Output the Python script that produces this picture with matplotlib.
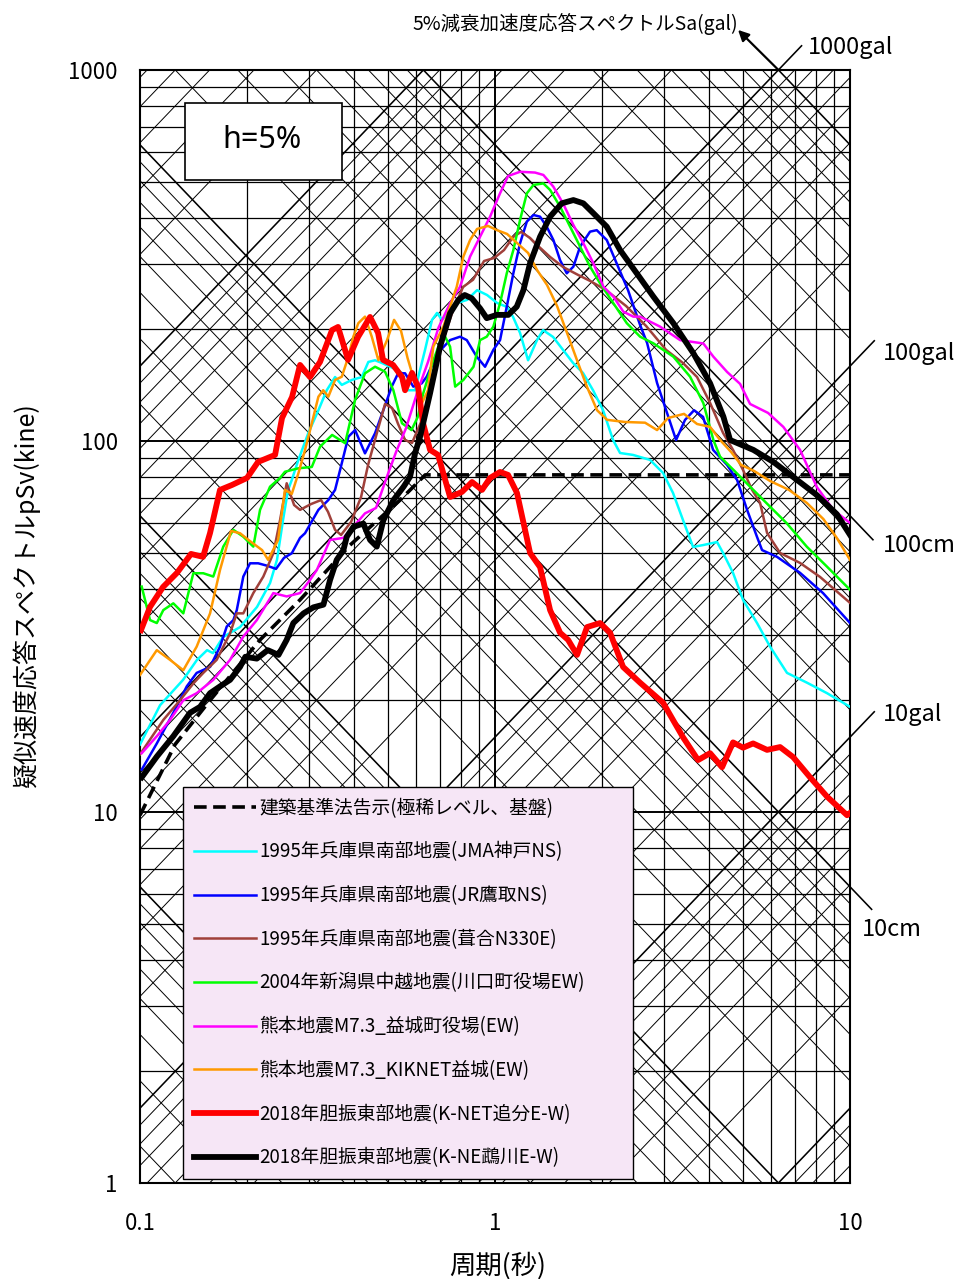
from __future__ import annotations

import numpy as np
import matplotlib
matplotlib.use("Agg")
import matplotlib.pyplot as plt
from matplotlib.patches import Rectangle
from matplotlib.ticker import NullFormatter

# ============================================================
# 擬似速度応答スペクトル (三軸図, h=5%)
# ============================================================

OUT_FILE = "out.png"
TWO_PI = 2.0 * np.pi

# ----------------------------
# Données : période T [s], pSv [kine]
# ----------------------------
code_T = [0.1, 0.1255, 0.1575, 0.2178, 0.2823, 0.3905, 0.5401, 0.6356, 10.0]
code_sv = [9.8, 15.2, 20.0, 29.1, 37.3, 52.4, 69.3, 81.0, 81.0]

cyan_T = [0.1, 0.1139, 0.1322, 0.1447, 0.1545, 0.1605, 0.1713, 0.1913, 0.2136, 0.2324,
          0.2431, 0.2528, 0.2612, 0.2676, 0.2793, 0.298, 0.318, 0.3357, 0.3543, 0.3701,
          0.3948, 0.4213, 0.4397, 0.4592, 0.4805, 0.5161, 0.547, 0.5686, 0.5951, 0.6351,
          0.6645, 0.6864, 0.709, 0.7816, 0.834, 0.8899, 0.9495, 1.013, 1.081, 1.124,
          1.176, 1.239, 1.313, 1.365, 1.457, 1.554, 1.659, 1.769, 1.888, 2.015,
          2.15, 2.25, 2.447, 2.733, 2.973, 3.172, 3.384, 3.612, 3.854, 4.221,
          4.388, 4.681, 4.995, 5.47, 5.952, 6.644, 7.566, 8.612, 10.0]
cyan_sv = [15.2, 19.4, 22.7, 25.7, 27.3, 26.8, 29.6, 31.5, 35.7, 41.4,
           47.8, 61.2, 73.8, 78.5, 88.9, 105.1, 121, 137, 148.7, 141.6,
           146, 148.7, 163.3, 165, 162.2, 157.2, 152.5, 137, 137, 176,
           212, 221.3, 212, 235.5, 240, 255, 247.4, 235.5, 229.7, 215.9,
           195.5, 165, 187, 199, 190.7, 176, 162.2, 152.5, 137, 121,
           100.6, 92.8, 91.7, 88.9, 82, 72.4, 61.2, 51.8, 52.4, 53.4,
           49.9, 44.1, 37.3, 32.3, 27.9, 23.7, 22.3, 20.9, 19.2]

blue_T = [0.1011, 0.1115, 0.1241, 0.1354, 0.1444, 0.1575, 0.168, 0.1755, 0.1832, 0.1873,
          0.1954, 0.2041, 0.2152, 0.228, 0.2416, 0.2544, 0.2676, 0.2823, 0.2916, 0.318,
          0.3392, 0.3543, 0.3701, 0.3863, 0.4034, 0.4302, 0.4592, 0.4845, 0.5117, 0.5332,
          0.5579, 0.5886, 0.6216, 0.6418, 0.6882, 0.747, 0.7971, 0.8325, 0.888, 0.9372,
          0.989, 1.033, 1.079, 1.126, 1.176, 1.229, 1.283, 1.339, 1.398, 1.46,
          1.525, 1.592, 1.662, 1.736, 1.852, 1.934, 2.064, 2.2, 2.369, 2.562,
          2.681, 2.86, 3.051, 3.235, 3.429, 3.636, 3.854, 4.113, 4.503, 4.806,
          5.128, 5.47, 5.651, 6.228, 7.23, 8.391, 10.0]
blue_sv = [13.0, 15.3, 18.5, 21.8, 23.7, 24.6, 27.9, 31.6, 32.9, 35.0,
           43.1, 46.8, 46.8, 46.1, 45.2, 48.4, 49.8, 54.8, 56.4, 65.2,
           69.3, 73.8, 87.1, 102.7, 107, 92.6, 104.9, 121, 140.1, 152.2,
           152.2, 140.1, 143, 149, 172.3, 187, 191, 187, 168.7, 158.5,
           176, 187, 230.1, 283.1, 341.1, 390.1, 406.6, 402.3, 378.1, 348,
           307, 283.1, 295, 334, 366.6, 370, 348, 301.3, 255, 205.4,
           183.7, 143.3, 119, 100.6, 114, 121, 116.1, 94.6, 86.2, 78.5,
           65.2, 55.1, 50.8, 48.7, 44.1, 38.9, 32.3]

brown_T = [0.1, 0.1163, 0.1296, 0.1413, 0.1507, 0.1644, 0.1793, 0.1873, 0.1954, 0.2085,
           0.2225, 0.2374, 0.248, 0.2589, 0.2716, 0.2823, 0.3032, 0.3236, 0.3385, 0.3543,
           0.3684, 0.393, 0.4194, 0.4389, 0.4622, 0.4899, 0.5128, 0.5332, 0.5579, 0.5837,
           0.6227, 0.6516, 0.6687, 0.7138, 0.7616, 0.8126, 0.867, 0.9312, 0.9936, 1.06,
           1.124, 1.184, 1.255, 1.313, 1.429, 1.554, 1.713, 1.852, 2.054, 2.339,
           2.663, 3.032, 3.384, 3.707, 4.034, 4.388, 4.681, 4.995, 5.297, 5.578,
           5.837, 6.351, 7.23, 8.231, 10.0]
brown_sv = [14.3, 17.7, 20.0, 22.2, 23.7, 25.7, 30.3, 34.3, 34.3, 38.9,
            43.1, 49.8, 61.2, 76.9, 67.2, 65.2, 67.6, 69.3, 64.4, 57.6,
            55.8, 60.5, 70.6, 86.2, 103.1, 125.8, 122.7, 111.1, 100.6, 98.8,
            114, 129, 152.5, 187, 225, 260.1, 272, 305.5, 311.3, 327,
            354.6, 366, 352.5, 337.5, 313.3, 294.4, 280.3, 270, 255, 231.1,
            204.2, 176, 162.2, 148.7, 126.6, 105.1, 94.6, 83.5, 73.8, 68.1,
            56.5, 49.9, 46.9, 43.0, 36.6]

green_T = [0.1011, 0.1067, 0.1115, 0.1163, 0.1241, 0.1324, 0.1413, 0.1507, 0.1608, 0.1716,
           0.1832, 0.1954, 0.2085, 0.2178, 0.2324, 0.248, 0.256, 0.2793, 0.3047, 0.3214,
           0.3476, 0.3782, 0.4034, 0.4302, 0.4592, 0.4899, 0.5171, 0.5468, 0.5816, 0.6065,
           0.6278, 0.6703, 0.7153, 0.747, 0.7721, 0.8142, 0.8697, 0.9075, 0.9475, 0.989,
           1.033, 1.079, 1.126, 1.176, 1.229, 1.283, 1.368, 1.429, 1.525, 1.627,
           1.736, 1.852, 1.976, 2.154, 2.35, 2.562, 2.792, 3.179, 3.543, 3.862,
           4.121, 4.304, 4.697, 5.228, 5.952, 6.632, 7.551, 8.597, 10.0]
green_sv = [40.5, 32.9, 32.3, 35.0, 36.5, 34.3, 44.0, 44.0, 43.1, 51.9,
            57.6, 55.2, 51.9, 65.2, 75.3, 79.5, 82.6, 84.4, 85.1, 96.5,
            103.8, 98.6, 129, 152.2, 158.5, 153.7, 137, 111.6, 107, 116.3,
            134.5, 165, 195.1, 179.6, 140.1, 146, 158.5, 187, 191, 203.3,
            235.1, 283.1, 327, 394, 465.1, 489.8, 494.6, 475, 428, 378.1,
            334, 295, 266.1, 235.1, 207.7, 191, 183.3, 168.7, 149, 126.4,
            100.6, 90.7, 83.5, 75.3, 66.5, 60.0, 51.9, 45.9, 39.7]

magenta_T = [0.1011, 0.1115, 0.1215, 0.1324, 0.1444, 0.1608, 0.1793, 0.1954, 0.2133, 0.2374,
             0.2589, 0.2823, 0.3012, 0.3148, 0.343, 0.374, 0.4034, 0.4302, 0.4622, 0.4932,
             0.5263, 0.5616, 0.6065, 0.6474, 0.6923, 0.747, 0.7971, 0.8505, 0.9075, 0.9683,
             1.033, 1.088, 1.176, 1.296, 1.368, 1.46, 1.554, 1.662, 1.773, 1.892,
             2.019, 2.154, 2.298, 2.452, 2.562, 2.917, 3.321, 3.862, 4.121, 4.503,
             4.9, 5.228, 5.875, 6.487, 7.23, 8.057, 8.974, 10.0]
magenta_sv = [14.4, 16.0, 17.7, 20.0, 20.9, 22.7, 25.7, 29.7, 32.9, 38.9,
              38.1, 38.9, 42.2, 44.9, 54.1, 54.8, 59.4, 63.8, 66.0, 78.9,
              93.4, 108.4, 137, 163.3, 201.6, 235.1, 260.6, 314, 355.3, 402.3,
              465.1, 517.7, 531.6, 529, 521.2, 484.5, 437, 382.1, 341.1, 301.3,
              260.6, 245, 223.1, 216.3, 216.3, 203.3, 187, 183.1, 168.7, 153.5,
              142.5, 125.8, 119, 109.1, 94.6, 75.2, 65.2, 60.1]

orange_T = [0.1, 0.1115, 0.1215, 0.1324, 0.1444, 0.1575, 0.168, 0.1804, 0.1913, 0.2041,
            0.2207, 0.2296, 0.2449, 0.256, 0.2676, 0.2793, 0.2916, 0.3047, 0.318, 0.3281,
            0.3392, 0.3543, 0.3701, 0.3863, 0.3989, 0.412, 0.4302, 0.4495, 0.4693, 0.4964,
            0.5195, 0.5435, 0.5668, 0.5913, 0.6227, 0.6474, 0.67, 0.7153, 0.747, 0.7801,
            0.8142, 0.8505, 0.8899, 0.9557, 1.013, 1.081, 1.153, 1.239, 1.313, 1.401,
            1.495, 1.595, 1.702, 1.816, 1.938, 2.068, 2.323, 2.646, 2.86, 3.071,
            3.406, 3.707, 4.034, 4.304, 4.622, 4.932, 5.366, 5.952, 6.731, 7.551,
            8.409, 9.173, 10.0]
orange_sv = [23.4, 27.3, 25.7, 24.1, 27.9, 34.3, 44.9, 57.2, 56.4, 53.7,
             50.8, 47.8, 54.1, 73.8, 72.0, 81.8, 94.6, 111.6, 131.6, 137,
             131.6, 146, 149, 168.7, 191, 207.7, 216.3, 191, 165, 187,
             212, 197.9, 167.5, 146, 126.6, 137, 179.6, 203.3, 230.1, 260.6,
             314, 348, 372.8, 379.8, 370, 361.4, 341.7, 321.2, 289, 263.3,
             231.1, 195.5, 165, 139.8, 121, 114, 112.5, 112, 107, 115.3,
             118.3, 111.1, 109.1, 100.6, 93.4, 86.2, 83.0, 78.0, 73.8, 68.1,
             61.6, 54.8, 47.8]

red_T = [0.1006, 0.1067, 0.1161, 0.1271, 0.1392, 0.1505, 0.1575, 0.168, 0.1816, 0.2002,
         0.215, 0.2401, 0.2512, 0.2681, 0.2823, 0.3012, 0.3214, 0.3474, 0.3612, 0.3855,
         0.4113, 0.4446, 0.4683, 0.4836, 0.5161, 0.547, 0.5579, 0.5837, 0.6069, 0.6268,
         0.6561, 0.691, 0.747, 0.8072, 0.8614, 0.9192, 0.9683, 1.033, 1.088, 1.153,
         1.255, 1.339, 1.429, 1.525, 1.606, 1.702, 1.816, 1.976, 2.109, 2.294,
         2.562, 2.973, 3.384, 3.731, 4.034, 4.36, 4.681, 4.995, 5.332, 5.837,
         6.351, 6.91, 7.714, 8.612, 9.806, 10.0]
red_sv = [30.9, 35.7, 40.4, 44.1, 49.6, 48.7, 56.5, 73.8, 76.1, 79.5,
          87.8, 91.7, 115.3, 131.4, 160.3, 148.7, 163.3, 199, 202.9, 165.4,
          190.7, 215.9, 195.5, 165.4, 160.3, 148.7, 137, 152.5, 139.8, 111.8,
          94.6, 91.7, 70.6, 72.9, 77.5, 73.8, 79.5, 82.5, 81.0, 72.4,
          49.9, 45.7, 35.0, 30.4, 29.1, 26.5, 31.5, 32.3, 30.4, 24.6,
          22.3, 19.7, 15.9, 13.8, 14.4, 13.2, 15.4, 14.9, 15.3, 14.7,
          14.96, 14.06, 12.4, 11.0, 9.8, 9.94]

black_T = [0.1011, 0.1115, 0.1241, 0.1383, 0.1476, 0.1575, 0.168, 0.1793, 0.1913, 0.198,
           0.2133, 0.2289, 0.2455, 0.2589, 0.2703, 0.2888, 0.3078, 0.3286, 0.343, 0.3581,
           0.374, 0.3823, 0.3993, 0.4256, 0.4446, 0.4644, 0.4848, 0.5175, 0.5527, 0.5763,
           0.5951, 0.6149, 0.6561, 0.7001, 0.747, 0.7885, 0.8215, 0.8597, 0.9075, 0.9475,
           1.011, 1.09, 1.151, 1.202, 1.255, 1.339, 1.429, 1.541, 1.662, 1.773,
           1.892, 2.064, 2.25, 2.507, 2.792, 3.179, 3.62, 4.034, 4.397, 4.592,
           5.341, 6.081, 6.91, 8.057, 9.173, 10.0]
black_sv = [12.4, 14.1, 16.0, 18.5, 19.2, 20.9, 21.8, 22.7, 24.6, 26.2,
            25.9, 27.3, 26.5, 29.1, 32.3, 34.3, 35.6, 36.2, 42.2, 47.8,
            50.8, 55.2, 58.7, 59.9, 54.1, 51.9, 61.2, 69.3, 75.3, 80.1,
            92.6, 102.7, 134.5, 179.6, 220.9, 240, 247.4, 242.4, 227.7, 214.3,
            218.7, 218.7, 230.1, 255, 301.3, 355.3, 402.3, 437, 446, 437,
            411, 378, 327, 283, 245, 207.7, 172.3, 143, 116.3, 100.6,
            94.6, 87.8, 80.0, 71.5, 63.5, 55.8]

SERIES_LABELS = [
    "建築基準法告示(極稀レベル、基盤)",
    "1995年兵庫県南部地震(JMA神戸NS)",
    "1995年兵庫県南部地震(JR鷹取NS)",
    "1995年兵庫県南部地震(葺合N330E)",
    "2004年新潟県中越地震(川口町役場EW)",
    "熊本地震M7.3_益城町役場(EW)",
    "熊本地震M7.3_KIKNET益城(EW)",
    "2018年胆振東部地震(K-NET追分E-W)",
    "2018年胆振東部地震(K-NE鵡川E-W)",
]

# axes ticks
X_TICKS = [0.1, 1, 10]
X_TICK_LABELS = ["0.1", "1", "10"]
Y_TICKS = [1, 10, 100, 1000]
Y_TICK_LABELS = ["1", "10", "100", "1000"]


def set_plot_style() -> None:
    plt.rcParams.update({
        "font.family": ["Noto Sans CJK JP", "DejaVu Sans"],
        "axes.linewidth": 1.5,
        "axes.edgecolor": "black",
    })


def draw_tripartite_grid(ax) -> None:
    # lignes Sa (pente +1) et Sd (pente -1)
    t = np.array([0.01, 100.0])
    for k in range(-1, 5):
        for m in range(1, 10):
            sa = m * 10.0 ** k
            ax.plot(t, sa * t / TWO_PI, color="black",
                    lw=1.15 if m == 1 else 0.7, zorder=1)
    for k in range(-2, 4):
        for m in range(1, 10):
            sd = m * 10.0 ** k
            ax.plot(t, TWO_PI * sd / t, color="black",
                    lw=1.15 if m == 1 else 0.7, zorder=1)


def label_diagonals(ax) -> None:
    kw = dict(color="black", lw=1.15, clip_on=False, zorder=1)
    # prolongements hors du cadre
    for sa, t0, t1 in [(1000, TWO_PI, 7.3), (100, 10, 11.7), (10, 10, 11.7)]:
        ax.plot([t0, t1], [sa * t0 / TWO_PI, sa * t1 / TWO_PI], **kw)
    for sd, t1 in [(100, 11.6), (10, 11.5)]:
        ax.plot([10, t1], [TWO_PI * sd / 10, TWO_PI * sd / t1], **kw)

    tkw = dict(fontsize=17, ha="left", va="center", clip_on=False)
    ax.text(7.61, 1153, "1000gal", **tkw)
    ax.text(12.39, 172.6, "100gal", **tkw)
    ax.text(12.39, 52.4, "100cm", **tkw)
    ax.text(12.39, 18.3, "10gal", **tkw)
    ax.text(10.81, 4.81, "10cm", **tkw)

    ax.annotate("", xy=(4.836, 1282), xytext=(TWO_PI, 1000),
                arrowprops=dict(arrowstyle="-|>", color="black", lw=1.6,
                                mutation_scale=16, shrinkA=0, shrinkB=0),
                annotation_clip=False)


def main() -> None:
    set_plot_style()

    fig = plt.figure(figsize=(9.65, 12.79), dpi=100)
    ax = fig.add_axes([0.1451, 0.0751, 0.7358, 0.8702])
    ax.set_xscale("log")
    ax.set_yscale("log")

    ax.set_axisbelow(True)
    ax.grid(True, which="major", color="black", lw=1.4)
    ax.grid(True, which="minor", color="black", lw=0.9)

    draw_tripartite_grid(ax)

    series = [
        (code_T, code_sv, "black", 2.6, (0, (3.5, 1.8))),
        (cyan_T, cyan_sv, "#00ffff", 1.8, "-"),
        (blue_T, blue_sv, "#0000ff", 1.8, "-"),
        (brown_T, brown_sv, "#a0403a", 1.8, "-"),
        (green_T, green_sv, "#00ff00", 1.8, "-"),
        (magenta_T, magenta_sv, "#ff00ff", 1.8, "-"),
        (orange_T, orange_sv, "#ff9900", 1.8, "-"),
        (red_T, red_sv, "#ff0000", 4.2, "-"),
        (black_T, black_sv, "black", 4.2, "-"),
    ]
    for i, ((t, sv, color, lw, ls), label) in enumerate(zip(series, SERIES_LABELS)):
        ax.plot(t, sv, color=color, lw=lw, ls=ls, label=label,
                zorder=3 + i, solid_joinstyle="round")

    ax.set_xlim(0.1, 10)
    ax.set_ylim(1, 1000)

    ax.set_xticks(X_TICKS)
    ax.set_xticklabels(X_TICK_LABELS)
    ax.set_yticks(Y_TICKS)
    ax.set_yticklabels(Y_TICK_LABELS)
    ax.xaxis.set_minor_formatter(NullFormatter())
    ax.yaxis.set_minor_formatter(NullFormatter())
    ax.tick_params(which="both", length=0, labelsize=16)
    ax.tick_params(axis="x", pad=21)
    ax.tick_params(axis="y", pad=16)

    ax.set_xlabel("周期(秒)", fontsize=19)
    ax.xaxis.set_label_coords(0.503, -0.062)
    ax.set_ylabel("疑似速度応答スペクトルpSv(kine)", fontsize=18)
    ax.yaxis.set_label_coords(-0.141, 0.528)

    label_diagonals(ax)

    # encadré h=5%
    ax.add_patch(Rectangle((0.0634, 0.9012), 0.2211, 0.0692, transform=ax.transAxes,
                           facecolor="white", edgecolor="black", lw=1.2, zorder=20))
    ax.text(0.1718, 0.9371, "h=5%", transform=ax.transAxes, ha="center", va="center",
            fontsize=22, family=["Noto Sans", "DejaVu Sans"], zorder=21)

    leg = ax.legend(loc="upper left", bbox_to_anchor=(0.0606, 0.0027, 0.6338, 0.3531),
                    mode="expand", borderaxespad=0, fontsize=13.5, labelspacing=1.21,
                    handlelength=3.3, handletextpad=0.2, borderpad=0.58,
                    fancybox=False, framealpha=1, facecolor="#f6e6f6", edgecolor="black")
    leg.get_frame().set_linewidth(1.0)
    leg.set_zorder(30)

    fig.text(0.7648, 0.9812, "5%減衰加速度応答スペクトルSa(gal)", ha="right", va="center",
             fontsize=14)

    fig.savefig(OUT_FILE, dpi=100, facecolor="white")
    plt.close(fig)


if __name__ == "__main__":
    main()
